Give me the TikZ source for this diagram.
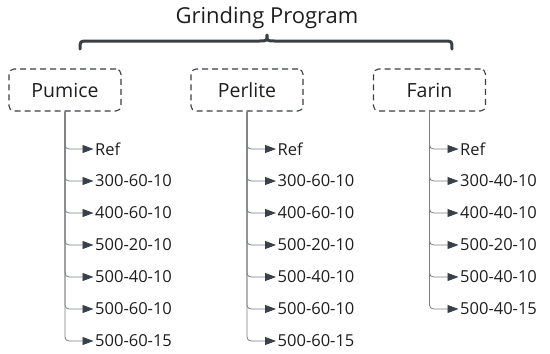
\documentclass[tikz,border=0pt]{standalone}
\usepackage{fontspec}
\setmainfont{Open Sans}
\usetikzlibrary{arrows.meta}
\definecolor{txt}{HTML}{1E1E1E}
\definecolor{bord}{HTML}{3A3F44}
\definecolor{conn}{HTML}{7A7E82}
\definecolor{tip}{HTML}{3A4047}
\tikzset{
  grp/.style={draw=bord, line width=1.1pt, dash pattern=on 6pt off 4pt, rounded corners=5pt,
    minimum width=112pt, minimum height=42pt, font=\fontsize{19.5}{21}\selectfont, text=txt, inner sep=0pt},
  item/.style={anchor=west, font=\fontsize{16.5}{18}\selectfont, text=txt, inner sep=1.5pt},
  link/.style={draw=conn, line width=0.8pt, rounded corners=4pt, -{Triangle[length=11pt,width=8pt,color=tip,fill=tip]}},
  bracepath/.style={draw=bord, line width=3pt, line cap=round, line join=round},
  ttl/.style={font=\fontsize{22}{24}\selectfont, text=txt, inner sep=0pt}
}
\begin{document}
\begin{tikzpicture}[x=1pt,y=-1pt]
\useasboundingbox (0,0) rectangle (550,354);
\node[ttl] (title) at (267,18) {Grinding Program};
\coordinate (bl) at (80,49);
\coordinate (br) at (452,49);
\draw[bracepath] (bl) .. controls (80,41) .. (88,41) -- (259,41) .. controls (267,41) .. (267,35)
  .. controls (267,41) .. (275,41) -- (444,41) .. controls (452,41) .. (br);
\node[grp] (pum) at (65,90) {Pumice};
\node[grp] (per) at (247,90) {Perlite};
\node[grp] (far) at (429.5,90) {Farin};
\foreach \t [count=\i] in {Ref,300-60-10,400-60-10,500-20-10,500-40-10,500-60-10,500-60-15}{
  \node[item] (p\i) at (93.5,{149+32*(\i-1)}) {\t};
  \draw[link] (pum.south) |- (p\i.west);
}
\foreach \t [count=\i] in {Ref,300-60-10,400-60-10,500-20-10,500-40-10,500-60-10,500-60-15}{
  \node[item] (e\i) at (276,{149+32*(\i-1)}) {\t};
  \draw[link] (per.south) |- (e\i.west);
}
\foreach \t [count=\i] in {Ref,300-40-10,400-40-10,500-20-10,500-40-10,500-40-15}{
  \node[item] (f\i) at (458.5,{149+32*(\i-1)}) {\t};
  \draw[link] (far.south) |- (f\i.west);
}
\end{tikzpicture}
\end{document}
